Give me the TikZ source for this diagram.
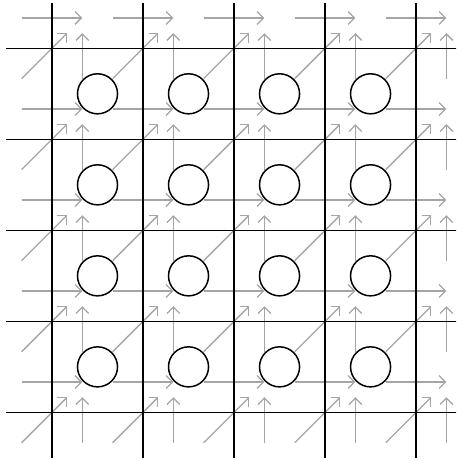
\documentclass[tikz,border=0pt]{standalone}
\usetikzlibrary{arrows.meta}
\definecolor{flowgray}{RGB}{165,165,165}
\tikzset{
  gridline/.style={line width=1.5pt, black},
  flow/.style={line width=1.2pt, flowgray, -{Straight Barb[length=6pt,width=12pt]}},
  cell/.style={circle, draw=black, line width=1.4pt, fill=white, minimum size=1.32cm, inner sep=0pt},
}
\begin{document}
\begin{tikzpicture}
\useasboundingbox (-3.214,-12.07) rectangle (11.82,3.092);
\clip (-3.214,-12.07) rectangle (11.82,3.092);
% horizontal flows
\foreach \j in {-1,0,1,2,3}{
  \foreach \i in {0,1,2,3,4}{
    \coordinate (hs-\i-\j) at ({3*\i-2.5},{-3*\j-0.5});
    \coordinate (he-\i-\j) at ({3*\i-0.5},{-3*\j-0.5});
    \draw[flow] (hs-\i-\j) -- (he-\i-\j);
  }
}
% vertical flows
\foreach \j in {0,1,2,3,4}{
  \foreach \i in {0,1,2,3,4}{
    \coordinate (vs-\i-\j) at ({3*\i-0.5},{-3*\j+0.5});
    \coordinate (ve-\i-\j) at ({3*\i-0.5},{-3*\j+2});
    \draw[flow] (vs-\i-\j) -- (ve-\i-\j);
  }
}
% diagonal flows
\foreach \j in {0,1,2,3,4}{
  \foreach \i in {-1,0,1,2,3}{
    \coordinate (ds-\i-\j) at ({3*\i+0.5},{-3*\j+0.5});
    \coordinate (de-\i-\j) at ({3*\i+2},{-3*\j+2});
    \draw[flow] (ds-\i-\j) -- (de-\i-\j);
  }
}
% grid
\foreach \k in {0,1,2,3,4}{
  \coordinate (gt-\k) at ({-1.5+3*\k},3);
  \coordinate (gb-\k) at ({-1.5+3*\k},-12);
  \draw[gridline] (gt-\k) -- (gb-\k);
  \coordinate (gl-\k) at (-3,{1.5-3*\k});
  \coordinate (gr-\k) at (12,{1.5-3*\k});
  \draw[gridline] (gl-\k) -- (gr-\k);
}
% cells
\foreach \i in {0,1,2,3}{
  \foreach \j in {0,1,2,3}{
    \node[cell] (c-\i-\j) at ({3*\i},{-3*\j}) {};
  }
}
\end{tikzpicture}
\end{document}
